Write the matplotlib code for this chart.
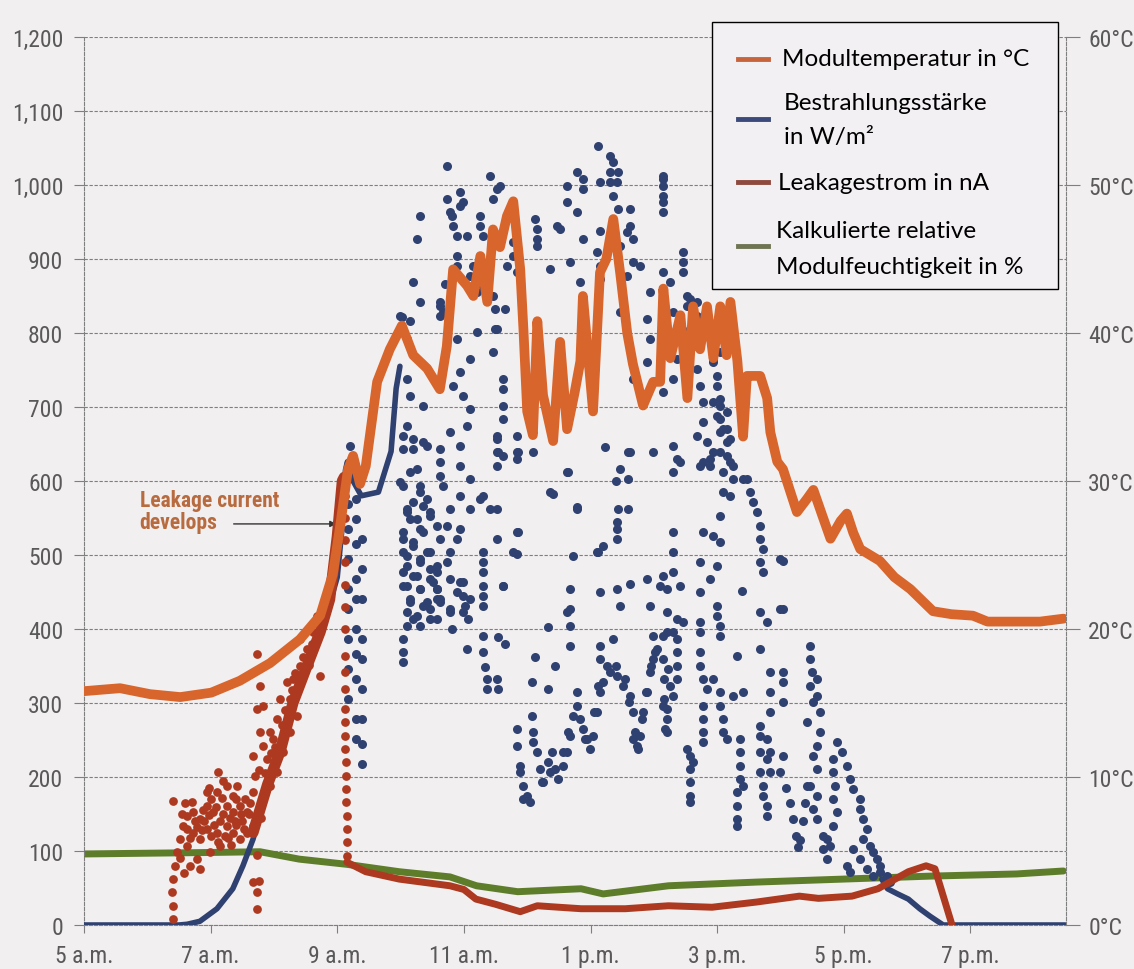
import numpy as np
import matplotlib
matplotlib.use("Agg")
import matplotlib.pyplot as plt
from matplotlib import font_manager
from matplotlib.lines import Line2D
from matplotlib.patches import Rectangle

# time axis in hours of the day (5 = 5 a.m.)
x_ticks = [5, 7, 9, 11, 13, 15, 17, 19]
x_labels = ["5 a.m.", "7 a.m.", "9 a.m.", "11 a.m.", "1 p.m.", "3 p.m.", "5 p.m.", "7 p.m."]
y_ticks = [0, 100, 200, 300, 400, 500, 600, 700, 800, 900, 1000, 1100, 1200]
y_labels = ["0", "100", "200", "300", "400", "500", "600", "700", "800", "900", "1,000", "1,100", "1,200"]
c_ticks = [0, 10, 20, 30, 40, 50, 60]
c_labels = ["0°C", "10°C", "20°C", "30°C", "40°C", "50°C", "60°C"]

# module temperature in °C
temp_t = [5.00, 5.57, 6.04, 6.52, 7.01, 7.46, 7.94, 8.41, 8.73, 8.93, 9.04, 9.17, 9.25, 9.36,
          9.45, 9.63, 9.83, 10.02, 10.20, 10.42, 10.62, 10.73, 10.83, 11.05, 11.15, 11.26,
          11.37, 11.46, 11.57, 11.68, 11.78, 11.89, 11.94, 12.00, 12.09, 12.16, 12.25, 12.41,
          12.52, 12.63, 12.75, 12.84, 12.88, 13.04, 13.15, 13.25, 13.36, 13.47, 13.58, 13.67,
          13.83, 13.99, 14.10, 14.15, 14.26, 14.42, 14.53, 14.62, 14.73, 14.84, 14.94, 15.05,
          15.15, 15.21, 15.32, 15.41, 15.47, 15.57, 15.68, 15.79, 15.84, 15.95, 16.04, 16.26,
          16.42, 16.52, 16.65, 16.79, 16.95, 17.05, 17.15, 17.26, 17.57, 17.80, 18.05, 18.41,
          18.70, 19.04, 19.27, 19.70, 20.10, 20.47]
temp_c = [15.8, 16.0, 15.6, 15.4, 15.7, 16.5, 17.7, 19.3, 20.9, 23.7, 26.8, 30.8, 31.7, 29.8,
          31.0, 36.7, 38.9, 40.5, 38.5, 37.6, 36.2, 39.1, 44.3, 43.2, 42.5, 45.2,
          42.1, 47.0, 45.8, 47.9, 48.9, 44.3, 40.3, 34.7, 33.1, 40.8, 35.8, 32.7,
          39.4, 33.5, 36.0, 38.1, 42.5, 34.7, 44.1, 45.0, 47.7, 44.0, 40.0, 37.9,
          35.1, 36.7, 36.7, 43.0, 38.3, 41.2, 35.6, 41.8, 38.9, 41.8, 38.3, 41.8,
          38.5, 42.1, 38.1, 33.0, 37.1, 37.1, 37.1, 35.6, 33.3, 31.3, 30.8, 27.9,
          28.8, 29.4, 27.8, 26.1, 27.3, 27.8, 26.5, 25.4, 24.6, 23.5, 22.7, 21.2,
          21.0, 20.9, 20.5, 20.5, 20.5, 20.7]

# irradiance W/m2, continuous part in the morning and evening
irr_am_t = [5.00, 6.50, 6.63, 6.83, 7.10, 7.35, 7.51, 7.67, 7.90, 8.10, 8.30, 8.50, 8.73,
            8.90, 9.00, 9.08, 9.13, 9.16, 9.25, 9.38, 9.65, 9.85, 9.93, 9.99]
irr_am_v = [0, 0, 1, 5, 22, 49, 80, 116, 185, 235, 295, 345, 396,
            440, 470, 540, 615, 626, 600, 580, 585, 640, 725, 755]
irr_pm_t = [17.60, 17.69, 17.85, 18.02, 18.20, 18.36, 18.57, 20.50]
irr_pm_v = [62, 49, 42, 35, 22, 12, 0, 0]

# irradiance W/m2, scattered readings under passing clouds
irr_dots_morning = [
    (9.17, 569), (9.17, 535), (9.17, 495), (9.17, 454), (9.17, 427), (9.17, 386), (9.17, 346),
    (9.17, 305), (9.30, 576), (9.30, 549), (9.30, 515), (9.30, 468), (9.30, 441), (9.30, 400),
    (9.30, 366), (9.30, 332), (9.30, 278), (9.30, 251), (9.39, 522), (9.39, 481), (9.39, 441),
    (9.39, 386), (9.39, 359), (9.39, 319), (9.39, 278), (9.39, 245), (9.39, 218), (9.20, 647),
    (10.10, 738), (10.15, 715), (10.36, 701), (10.10, 674), (10.20, 657), (10.04, 643),
    (10.42, 647), (10.15, 612), (10.31, 593), (9.99, 599), (10.20, 572), (10.42, 576),
    (10.10, 558), (10.26, 549), (10.47, 558), (10.36, 531), (10.04, 522), (10.20, 518),
    (10.10, 499), (10.31, 495), (10.47, 504), (10.04, 477), (10.26, 472), (10.47, 481),
    (10.10, 458), (10.31, 454), (10.51, 464), (10.15, 436), (10.36, 431), (10.58, 441),
    (10.20, 414), (10.47, 414), (10.04, 661), (10.20, 643), (10.36, 653), (10.26, 616),
    (10.04, 593), (10.31, 585), (10.10, 562), (10.36, 566), (10.15, 549), (10.47, 553),
    (10.04, 531), (10.31, 535), (10.58, 539), (10.20, 512), (10.04, 504), (10.42, 504),
    (10.10, 485), (10.31, 491), (10.58, 485), (10.20, 472), (10.47, 468), (10.04, 458),
    (10.31, 454), (10.58, 454), (10.15, 441), (10.42, 436), (10.62, 441), (10.10, 423),
    (10.26, 418), (10.47, 427), (10.10, 404), (10.31, 404), (10.04, 386), (10.04, 369),
    (10.04, 355), (10.62, 842), (10.67, 828), (10.89, 792), (11.10, 765), (10.94, 747),
    (10.83, 728), (10.99, 715), (11.10, 697), (11.05, 674), (10.78, 666), (10.62, 643),
    (10.94, 647), (10.62, 626), (10.94, 620), (10.62, 607), (11.10, 603), (10.67, 593),
    (10.94, 580), (11.26, 576), (10.78, 562), (11.10, 562), (10.73, 539), (10.94, 535),
    (10.62, 522), (10.89, 522), (10.78, 504), (10.73, 491), (10.58, 477), (10.78, 468),
    (10.99, 464), (10.58, 454), (10.89, 450), (11.10, 441), (10.62, 436), (10.78, 423),
    (10.99, 423), (10.58, 414), (10.94, 464), (10.99, 445), (11.02, 431), (11.07, 414),
    (10.78, 427), (10.81, 400), (11.05, 373),
]
irr_dots_noon_high = [
    (11.21, 801), (11.52, 805), (11.46, 774), (11.62, 738), (11.62, 724), (11.62, 701),
    (11.62, 684), (11.52, 661), (11.52, 639), (11.62, 634), (11.52, 620), (11.84, 639),
    (11.84, 630), (12.09, 639), (11.84, 661), (11.41, 562), (11.52, 562), (11.30, 580),
    (11.84, 531), (11.52, 522), (11.78, 504), (11.30, 504), (11.30, 491), (11.30, 477),
    (11.30, 458), (11.30, 445), (11.30, 431), (11.62, 458), (12.36, 585), (12.63, 612),
    (12.79, 562), (12.73, 499), (12.68, 454), (12.68, 427), (13.10, 504),
    (10.73, 1026), (11.41, 1012), (11.52, 995), (11.46, 981), (11.57, 999), (10.94, 990),
    (10.99, 977), (10.73, 981), (10.78, 964), (10.31, 958), (10.26, 927), (10.94, 972),
    (10.81, 958), (10.83, 945), (10.89, 931), (11.05, 931), (11.26, 958), (11.26, 945),
    (11.30, 931), (12.12, 954), (12.16, 941), (12.16, 927), (12.16, 918), (12.47, 945),
    (12.52, 941), (12.36, 886), (12.63, 999), (12.63, 977), (12.79, 1018), (12.88, 1008),
    (12.88, 995), (13.12, 1053), (13.31, 1039), (13.36, 1031), (13.31, 1018), (13.44, 1018),
    (13.31, 1004), (13.42, 1004), (13.36, 985), (13.44, 968), (13.15, 1004), (12.79, 964),
    (12.88, 927), (13.15, 938), (12.68, 896), (12.84, 869), (13.10, 909), (13.15, 891),
    (13.36, 945), (13.58, 936), (11.78, 923), (11.78, 904), (11.68, 891), (11.84, 882),
    (11.21, 855), (11.30, 864), (11.46, 850), (11.37, 877), (11.26, 904), (11.49, 832),
    (11.65, 832), (11.49, 805), (11.10, 877), (11.15, 891), (10.31, 842), (10.20, 869),
    (10.70, 866), (10.89, 904), (10.89, 891), (10.62, 836), (10.62, 823), (9.99, 823),
    (10.15, 816), (10.10, 792), (10.02, 822),
    (14.15, 1008), (14.15, 999), (14.15, 985), (14.15, 977), (14.15, 964), (14.46, 909),
    (14.46, 896), (14.46, 882), (14.15, 882), (14.26, 869), (13.94, 855), (13.63, 968),
    (13.63, 945), (13.67, 927), (13.47, 918), (13.78, 891), (13.58, 877), (14.57, 846),
    (14.68, 842), (14.37, 805), (14.57, 805), (14.62, 809), (13.47, 828), (14.53, 755),
    (14.37, 765), (14.94, 765), (15.05, 774), (14.15, 720), (14.30, 738), (13.67, 738),
    (13.12, 836), (13.15, 873), (13.94, 792), (14.73, 728), (14.78, 707), (15.00, 688),
    (15.05, 711), (14.78, 680), (15.05, 666), (14.94, 639), (15.21, 657), (15.16, 634),
    (15.25, 620), (15.41, 603), (15.52, 585), (13.99, 639), (13.63, 639), (13.47, 616),
    (14.37, 630), (14.30, 647), (14.15, 1012), (13.67, 896), (13.89, 819), (13.89, 761),
    (14.30, 828), (14.53, 850), (14.53, 836), (14.68, 823), (14.68, 801), (14.68, 782),
    (14.94, 778), (14.94, 761), (15.00, 742), (15.00, 728), (14.53, 761), (14.68, 751),
    (14.94, 707), (15.05, 701), (15.05, 684), (15.16, 693), (15.16, 670), (14.68, 661),
    (14.84, 653), (15.16, 653), (14.42, 626), (14.78, 626), (14.89, 620),
]
irr_dots_noon_low = [
    (11.30, 391), (11.54, 389), (11.30, 369), (11.65, 380), (11.33, 349), (11.37, 332),
    (11.37, 319), (11.52, 332), (11.54, 319), (11.86, 531), (11.84, 501), (11.62, 458),
    (12.12, 362), (12.08, 328), (12.44, 350), (12.33, 319), (12.33, 403), (12.08, 282),
    (11.84, 265), (11.84, 242), (11.89, 207), (11.94, 188), (12.00, 174), (12.05, 166),
    (12.09, 261), (12.09, 247), (12.16, 234), (12.20, 211), (12.25, 193), (12.33, 220),
    (12.39, 234), (12.44, 211), (12.49, 197), (12.57, 215), (12.63, 234), (12.68, 255),
    (12.73, 282), (12.79, 296), (12.84, 278), (12.88, 265), (12.95, 251), (12.99, 238),
    (13.04, 255), (13.10, 288), (13.15, 315), (13.20, 328), (13.31, 342), (13.42, 336),
    (13.52, 323), (13.63, 309), (13.67, 288), (13.70, 261), (13.74, 242), (13.78, 255),
    (13.83, 288), (13.89, 315), (13.94, 342), (13.99, 359), (14.05, 373), (14.15, 359),
    (14.15, 296), (14.18, 265), (12.68, 377), (12.68, 404), (12.63, 423), (13.15, 359),
    (13.15, 377), (13.36, 386), (13.99, 391), (14.15, 391), (13.47, 431), (13.94, 431),
    (13.15, 450), (13.42, 454), (13.63, 461), (13.89, 468), (14.10, 458), (14.15, 472),
    (13.12, 504), (13.20, 512), (13.42, 522), (13.42, 535), (13.42, 544), (13.44, 562),
    (13.59, 562), (12.79, 565), (12.65, 612), (13.40, 600), (13.59, 603), (12.41, 582),
    (11.86, 639), (11.54, 639), (11.52, 657), (13.23, 646), (13.59, 639),
    (11.89, 215), (11.94, 170), (12.23, 193), (12.36, 207), (12.57, 234), (12.65, 261),
    (12.79, 315), (12.91, 251), (13.06, 288), (13.12, 323), (13.26, 350), (13.40, 350),
    (13.55, 332), (13.61, 301), (13.67, 251), (13.75, 238), (13.82, 278), (13.88, 315),
    (13.96, 350), (14.02, 369), (14.16, 332), (14.16, 305), (14.23, 346), (14.30, 396),
    (14.37, 414),
]
irr_dots_afternoon = [
    (14.30, 612), (14.73, 620), (14.89, 630), (15.05, 639), (15.09, 670), (15.21, 626),
    (15.09, 612), (15.25, 603), (15.47, 603), (15.57, 572), (15.63, 558), (15.68, 539),
    (15.68, 522), (15.73, 508), (15.68, 491), (15.73, 477), (16.04, 492), (15.09, 585),
    (15.21, 580), (15.05, 553), (14.78, 531), (14.94, 526), (15.05, 518), (14.30, 531),
    (14.30, 504), (14.73, 491), (15.00, 485), (14.89, 468), (14.30, 477), (14.42, 458),
    (14.21, 454), (14.73, 450), (15.40, 451), (15.68, 423), (15.79, 409), (15.68, 373),
    (15.99, 427), (15.00, 431), (15.00, 418), (15.05, 404), (15.05, 391), (14.21, 423),
    (14.21, 396), (14.46, 409), (14.73, 409), (14.73, 396), (14.37, 386), (14.37, 369),
    (14.37, 350), (14.37, 332), (14.30, 309), (14.21, 292), (14.21, 278), (14.21, 261),
    (14.26, 323), (14.73, 369), (14.73, 350), (14.78, 332), (14.84, 319), (14.78, 296),
    (14.78, 278), (14.78, 261), (14.78, 247), (14.94, 332), (15.05, 315), (15.05, 296),
    (15.09, 278), (15.09, 261), (15.16, 251), (15.32, 364), (15.25, 309), (15.41, 315),
    (14.57, 228), (14.57, 211), (14.57, 193), (14.57, 174), (14.57, 166), (14.62, 220),
    (14.53, 238), (15.36, 251), (15.36, 234), (15.36, 215), (15.36, 197), (15.32, 180),
    (15.32, 161), (15.32, 143), (15.32, 134), (15.41, 188), (15.68, 269), (15.68, 255),
    (15.79, 251), (15.68, 234), (15.79, 224), (15.68, 207), (15.73, 188), (15.73, 174),
    (15.79, 161), (15.79, 147), (15.84, 207), (15.84, 234), (15.84, 342), (16.04, 342),
    (16.04, 328), (15.84, 315), (16.04, 301), (15.84, 288), (16.04, 228),
    (16.00, 207), (16.08, 185), (16.15, 165), (16.20, 143), (16.24, 120), (16.27, 105),
    (16.31, 115), (16.35, 140), (16.39, 165), (16.42, 188),
    (16.47, 377), (16.47, 359), (16.50, 342), (16.47, 323), (16.52, 301), (16.63, 288),
    (16.42, 274), (16.63, 261), (16.58, 242), (16.52, 228), (16.58, 211), (16.47, 188),
    (16.58, 174), (16.52, 157), (16.58, 143), (16.67, 120), (16.67, 103), (16.74, 89),
    (16.79, 107), (16.58, 332), (16.58, 309), (15.99, 495), (16.04, 427),
    (16.90, 247), (16.97, 234), (17.05, 215), (17.10, 197), (17.15, 184), (16.83, 224),
    (16.83, 207), (16.86, 188), (16.83, 170), (16.90, 153), (16.83, 134), (16.74, 116),
    (17.26, 170), (17.26, 157), (17.31, 143), (17.37, 130), (17.31, 116), (17.42, 107),
    (17.46, 99), (17.53, 89), (17.57, 80), (17.15, 103), (17.26, 89), (17.37, 76),
    (17.46, 66), (17.57, 72), (17.69, 66), (17.73, 58), (17.10, 72), (17.05, 80),
]

# leakage current nA
leak_dots = [
    (6.41, 168), (6.41, 8), (6.41, 26), (6.39, 45), (6.41, 62), (6.44, 80), (6.47, 99),
    (6.52, 116), (6.56, 134), (6.63, 147), (6.71, 166), (6.63, 107), (6.72, 125), (6.83, 143),
    (6.94, 161), (7.10, 180), (7.12, 207), (7.26, 188), (7.35, 174), (7.42, 188), (7.46, 161),
    (7.57, 153), (7.67, 180), (6.83, 116), (6.94, 130), (7.10, 125), (7.26, 134), (7.35, 125),
    (7.46, 116), (7.57, 125), (7.67, 134), (6.79, 89), (6.83, 76), (6.99, 99), (7.15, 107),
    (7.04, 153), (7.26, 161), (7.35, 153), (6.94, 180), (6.72, 153), (6.63, 130), (6.67, 80),
    (7.67, 58), (7.73, 45), (7.73, 22), (7.70, 201), (7.73, 366), (7.78, 323), (7.83, 296),
    (7.73, 292), (7.78, 261), (7.83, 242), (7.67, 228), (7.89, 224), (7.94, 261), (7.99, 251),
    (8.05, 278), (8.10, 305), (8.21, 328), (8.25, 305), (8.30, 332), (8.41, 350), (8.36, 282),
    (8.25, 261), (8.14, 234), (8.05, 207), (7.94, 188), (7.83, 170), (8.52, 373), (8.62, 396),
    (8.41, 386), (8.73, 336), (8.68, 418), (8.84, 427), (6.90, 140), (7.00, 170), (7.20, 150),
    (7.30, 145), (7.50, 140), (7.55, 170), (7.60, 150), (7.00, 120), (6.75, 140), (7.15, 140),
    (7.40, 135), (6.88, 155), (7.05, 135), (7.22, 120), (7.40, 170), (6.55, 150), (6.60, 165),
    (6.68, 118), (6.78, 132), (6.86, 128), (6.97, 148), (7.08, 160), (7.18, 172), (7.28, 118),
    (7.38, 140), (7.48, 150), (7.52, 130), (7.62, 165), (6.98, 185), (7.20, 195), (7.12, 112),
    (7.32, 108), (6.52, 90), (6.58, 70), (7.76, 210), (7.86, 205), (7.96, 232), (8.02, 240),
    (8.12, 270), (8.18, 290), (8.28, 318), (8.34, 340), (8.46, 362), (8.56, 352), (8.60, 380),
    (8.78, 410), (8.88, 455), (7.80, 145), (7.74, 95), (7.76, 60),
    (9.12, 580), (9.12, 550), (9.12, 520), (9.13, 490), (9.12, 460), (9.12, 430), (9.12, 400),
    (9.13, 364), (9.12, 342), (9.12, 319), (9.13, 292), (9.12, 274), (9.13, 255), (9.13, 238),
    (9.14, 220), (9.14, 201), (9.14, 184), (9.14, 166), (9.15, 147), (9.15, 130), (9.15, 112),
    (9.15, 93),
]
leak_rise_t = [7.67, 7.90, 8.10, 8.30, 8.50, 8.73, 8.88, 9.00, 9.08, 9.11]
leak_rise_v = [125, 190, 235, 300, 345, 396, 440, 525, 600, 605]
leak_t = [9.15, 9.45, 9.98, 10.78, 11.00, 11.19, 11.50, 11.89, 12.16, 12.50, 12.85, 13.55,
          14.23, 14.92, 15.62, 16.30, 16.60, 17.13, 17.54, 18.02, 18.30, 18.44, 18.71]
leak_v = [85, 72, 62, 53, 48, 35, 28, 18, 26, 24, 22, 22,
          26, 24, 31, 39, 36, 39, 49, 72, 80, 76, 0]

# calculated relative module humidity %
hum_t = [5.00, 6.00, 7.00, 7.78, 8.40, 9.15, 9.98, 10.78, 11.20, 11.85, 12.85, 13.20, 14.23,
         15.62, 16.98, 18.35, 19.73, 20.47]
hum_v = [96, 97, 98, 99, 89, 82, 72, 65, 53, 45, 49, 42, 53, 58, 62, 66, 69, 73]

BG = "#f2eff0"
ORANGE = "#d8652c"
NAVY = "#2f4170"
RED = "#ad3a20"
GREEN = "#5e7d2b"
GRID = "#7f7f7f"
TICK = "#595959"


def narrow_font():
    """Pick a condensed face for the axis labels if one is installed."""
    fonts = font_manager.fontManager.ttflist
    names = {f.name for f in fonts}
    for name in ("Liberation Sans Narrow", "Roboto Condensed", "Open Sans Condensed", "DejaVu Sans Condensed"):
        if name in names:
            return name, "normal"
    for f in fonts:
        if f.name == "DejaVu Sans" and "ondensed" in f.fname:
            return "DejaVu Sans", "condensed"
    return "Lato", "normal"


def legend_box(fig):
    """Hand placed legend in figure pixels (origin top left)."""
    W, H = 1134.0, 970.0
    box = Rectangle((712 / W, 1 - 290 / H), 346 / W, 267 / H, transform=fig.transFigure,
                    facecolor="#f3f0f3", edgecolor="black", lw=1.0, zorder=5)
    fig.patches.append(box)
    rows = [
        ("#c8643c", 60, [("Modultemperatur in °C", 782, 60)]),
        ("#3b4a7a", 120, [("Bestrahlungsstärke", 784, 104), ("in W/m²", 784, 138)]),
        ("#8e4a3e", 183, [("Leakagestrom in nA", 778, 183)]),
        ("#6f7552", 247, [("Kalkulierte relative", 776, 232), ("Modulfeuchtigkeit in %", 776, 268)]),
    ]
    for col, hy, texts in rows:
        fig.lines.append(Line2D([738 / W, 768 / W], [1 - hy / H, 1 - hy / H], color=col,
                                lw=3.5, transform=fig.transFigure, zorder=6))
        for s, tx, ty in texts:
            fig.text(tx / W, 1 - ty / H, s, ha="left", va="center", fontsize=17.5,
                     family=["Lato", "DejaVu Sans"], color="black", zorder=7)


def main():
    family, stretch = narrow_font()
    plt.rcParams["font.family"] = [family, "DejaVu Sans"]
    plt.rcParams["font.stretch"] = stretch
    lsize = 17 if family != "Lato" else 15

    fig = plt.figure(figsize=(11.34, 9.70), dpi=100, facecolor=BG)
    ax = fig.add_axes([84 / 1134, 1 - 926 / 970, 982 / 1134, 888 / 970])
    ax.set_facecolor(BG)
    ax2 = ax.twinx()

    dash = (0, (3, 1.5))
    ax.set_xlim(5, 20.51)
    ax.set_ylim(0, 1200)
    ax2.set_ylim(0, 60)
    ax.yaxis.grid(True, linestyle=dash, color=GRID, lw=0.8)
    ax.set_axisbelow(True)

    # humidity, irradiance and leakage on the left scale
    ax.plot(hum_t, hum_v, color=GREEN, lw=5, solid_capstyle="round", zorder=2)
    ax.plot(irr_am_t, irr_am_v, color=NAVY, lw=4, solid_capstyle="round", zorder=3)
    ax.plot(irr_pm_t, irr_pm_v, color=NAVY, lw=4, solid_capstyle="round", zorder=3)
    dots = np.array(irr_dots_morning + irr_dots_noon_high + irr_dots_noon_low + irr_dots_afternoon)
    ax.plot(dots[:, 0], dots[:, 1], "o", color=NAVY, ms=6.5, mew=0, zorder=3)
    ld = np.array(leak_dots)
    ax.plot(ld[:, 0], ld[:, 1], "o", color=RED, ms=6.3, mew=0, zorder=4)
    ax.plot(leak_rise_t, leak_rise_v, color=RED, lw=8, solid_capstyle="round", zorder=4)
    ax.plot(leak_t, leak_v, color=RED, lw=5, solid_capstyle="round", zorder=4)

    # module temperature on the right scale
    ax2.plot(temp_t, temp_c, color=ORANGE, lw=7, solid_joinstyle="round",
             solid_capstyle="round", zorder=4)

    # annotation
    ax.text(5.88, 560, "Leakage current\ndevelops", ha="left", va="center", fontsize=15.5,
            fontweight="bold", color="#b86b3e", linespacing=1.0)
    ax.annotate("", xy=(9.03, 542), xytext=(7.32, 542),
                arrowprops=dict(arrowstyle="-|>", color="#333333", lw=1.0, mutation_scale=9))

    # axes styling
    ax.set_xticks(x_ticks)
    ax.set_xticklabels(x_labels)
    ax.set_yticks(y_ticks)
    ax.set_yticklabels(y_labels)
    ax2.set_yticks(c_ticks)
    ax2.set_yticklabels(c_labels)
    ax.tick_params(axis="y", direction="out", length=7, width=0.8, color=GRID, pad=8,
                   labelsize=lsize, labelcolor=TICK)
    ax.tick_params(axis="x", direction="out", length=6, width=0.8, color=GRID, pad=8,
                   labelsize=lsize, labelcolor=TICK)
    ax2.tick_params(axis="y", direction="out", length=10, width=0.8, color=GRID, pad=6,
                    labelsize=lsize, labelcolor=TICK)
    for a in (ax, ax2):
        for side in ("top", "right", "left", "bottom"):
            a.spines[side].set_visible(False)
    for a, side in ((ax, "left"), (ax, "bottom"), (ax2, "right")):
        a.spines[side].set_visible(True)
        a.spines[side].set_linestyle(dash)
        a.spines[side].set_color(GRID)
        a.spines[side].set_linewidth(0.8)

    legend_box(fig)
    fig.savefig("out.png", dpi=100, facecolor=BG)


if __name__ == "__main__":
    main()
